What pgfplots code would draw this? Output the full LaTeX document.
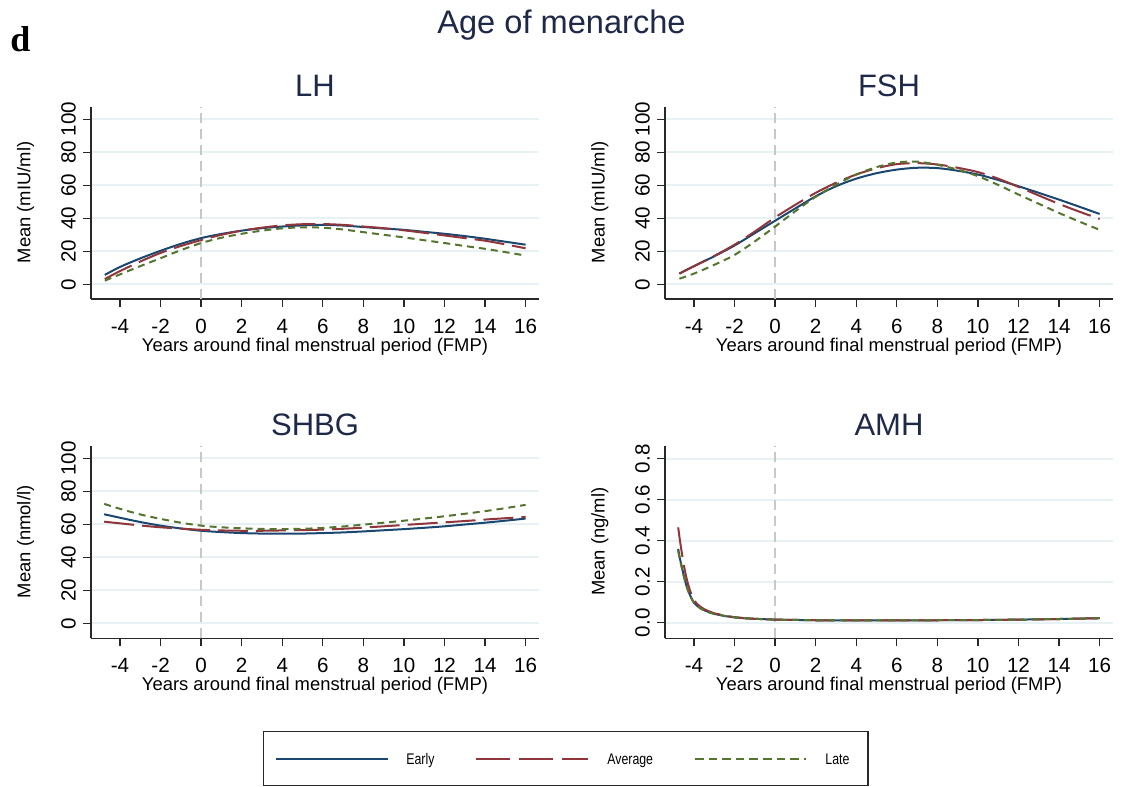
\documentclass[border=0pt]{standalone}
\usepackage{fontspec}
\setmainfont{Liberation Sans}
\newfontfamily\serifb{Liberation Serif}
\usepackage{graphicx}
\usepackage{pgfplots}
\pgfplotsset{compat=1.18}
\definecolor{stnavy}{RGB}{26,71,111}
\definecolor{stmaroon}{RGB}{144,53,59}
\definecolor{stgreen}{RGB}{85,117,47}
\definecolor{gridc}{RGB}{232,241,243}
\definecolor{titc}{RGB}{30,40,72}
\definecolor{refc}{RGB}{200,200,200}
\definecolor{axc}{RGB}{40,40,40}
\pgfplotsset{
  panel/.style={
    scale only axis, width=224pt, height=96.15pt,
    xmin=-5.43, xmax=16.66,
    axis x line*=bottom, axis y line*=left,
    axis line style={-, line width=0.65pt, axc},
    xtick={-4,-2,...,16},
    tick align=outside, major tick length=4pt,
    tick style={line width=0.65pt, axc},
    ticklabel style={font=\fontsize{10.3}{12}\selectfont},
    /pgf/number format/assume math mode=true,
    yticklabel style={rotate=90, anchor=south},
    xticklabel style={yshift=-2.5pt},
    ymajorgrids, grid style={gridc, line width=1pt},
    anchor=south west,
  },
  early/.style={stnavy, line width=1pt, smooth},
  avg/.style={stmaroon, line width=1pt, smooth, dash pattern=on 15pt off 4pt},
  late/.style={stgreen, line width=1pt, smooth, dash pattern=on 3.5pt off 2.5pt},
  refl/.style={refc, line width=0.65pt, dash pattern=on 5pt off 3pt},
}
\begin{document}
\begin{tikzpicture}
\useasboundingbox (0,0) rectangle (565.5pt,393.5pt);
% Labels
\node[font=\serifb\bfseries\fontsize{18}{20}\selectfont, anchor=base west, inner sep=0] at (5pt,367.65pt) {d};
\node[font=\fontsize{16.3}{18}\selectfont, text=titc, anchor=base, inner sep=0] at (280.75pt,376.85pt) {Age of menarche};
% LH
\begin{axis}[panel, at={(45.5pt,244pt)}, ymin=-8.9, ymax=107.6, ytick={0,20,...,100}]
\addplot[refl] coordinates {(0,-8.9) (0,107.6)};
\addplot[early] coordinates {(-4.75,5.7) (-4,10.5) (-3,15.7) (-2,20.3) (-1,24.5) (0,28) (1,30.5) (2,32.5) (3,34) (4,35) (5,35.7) (6,36) (7,35.6) (8,34.7) (9,33.8) (10,33) (11,31.8) (12,30.6) (13,29.2) (14,27.6) (15,25.8) (16,24)};
\addplot[avg] coordinates {(-4.75,3.2) (-4,8) (-3,13.8) (-2,19) (-1,23.2) (0,26.8) (1,30) (2,32.5) (3,34.3) (4,35.7) (5,36.4) (6,36.5) (7,36) (8,35) (9,34) (10,32.7) (11,31.2) (12,29.6) (13,28) (14,26.4) (15,24.2) (16,21.8)};
\addplot[late] coordinates {(-4.75,2.2) (-4,6) (-3,11) (-2,15.8) (-1,20.7) (0,25) (1,28.2) (2,30.6) (3,32.5) (4,33.9) (5,34.5) (6,34.3) (7,33.2) (8,31.6) (9,30) (10,28.4) (11,26.7) (12,25) (13,23.2) (14,21.5) (15,19.5) (16,17.4)};
\end{axis}
% FSH
\begin{axis}[panel, at={(332.5pt,244pt)}, ymin=-8.9, ymax=107.6, ytick={0,20,...,100}]
\addplot[refl] coordinates {(0,-8.9) (0,107.6)};
\addplot[early] coordinates {(-4.72,6.5) (-4,11) (-3,17) (-2,23.5) (-1,31) (0,38.5) (1,46) (2,53.3) (3,59.4) (4,64) (5,67.3) (6,69.5) (7,70.6) (8,70.4) (9,68.8) (10,66.5) (11,63.2) (12,59.4) (13,55.4) (14,51.3) (15,47) (16,42.6)};
\addplot[avg] coordinates {(-4.72,6.5) (-4,11) (-3,17.2) (-2,24) (-1,32) (0,40.5) (1,48.2) (2,55.4) (3,61.5) (4,66.5) (5,70.3) (6,72.8) (7,73.4) (8,72.6) (9,70.6) (10,68) (11,64) (12,59) (13,53.8) (14,48.7) (15,44) (16,39.6)};
\addplot[late] coordinates {(-4.72,3.4) (-4,6.5) (-3,11.8) (-2,17.8) (-1,26) (0,35) (1,44.3) (2,53) (3,60.3) (4,66.5) (5,71) (6,73.8) (7,74.3) (8,72.4) (9,69.5) (10,65.5) (11,60.2) (12,54.4) (13,48.8) (14,43.2) (15,38) (16,33)};
\end{axis}
% SHBG
\begin{axis}[panel, at={(45.5pt,74.35pt)}, ymin=-9.1, ymax=107.5, ytick={0,20,...,100}]
\addplot[refl] coordinates {(0,-9.1) (0,107.5)};
\addplot[early] coordinates {(-4.78,66.1) (-4,64) (-3,61.4) (-2,59.2) (-1,57.5) (0,56.1) (1,55.3) (2,54.7) (3,54.4) (4,54.3) (5,54.4) (6,54.7) (7,55.1) (8,55.7) (9,56.4) (10,57.1) (11,57.9) (12,58.8) (13,59.9) (14,61) (15,62.2) (16,63.5)};
\addplot[avg] coordinates {(-4.78,61.6) (-4,60.6) (-3,59.3) (-2,58.2) (-1,57.4) (0,56.7) (1,56.3) (2,56.1) (3,56.1) (4,56.3) (5,56.5) (6,56.8) (7,57.3) (8,58) (9,58.8) (10,59.6) (11,60.4) (12,61.2) (13,62) (14,62.9) (15,63.7) (16,64.5)};
\addplot[late] coordinates {(-4.78,72.4) (-4,69.4) (-3,66) (-2,63.3) (-1,61) (0,59.2) (1,58.2) (2,57.6) (3,57.2) (4,57.1) (5,57.3) (6,57.8) (7,58.7) (8,59.8) (9,61) (10,62.2) (11,63.5) (12,64.9) (13,66.4) (14,68) (15,69.8) (16,71.8)};
\end{axis}
% AMH
\begin{axis}[panel, at={(332.5pt,74.35pt)}, ymin=-0.076, ymax=0.862, ytick={0,0.2,...,0.8},
  yticklabel style={/pgf/number format/.cd, fixed, fixed zerofill, precision=1}]
\addplot[refl] coordinates {(0,-0.076) (0,0.862)};
\addplot[stnavy, line width=1pt] coordinates {(-4.78,0.36) (-4.7,0.315) (-4.6,0.272) (-4.5,0.228) (-4.4,0.19) (-4.3,0.16) (-4.2,0.135) (-4.1,0.115) (-4,0.098) (-3.85,0.083) (-3.7,0.072) (-3.5,0.061) (-3.25,0.051) (-3,0.043) (-2.5,0.033) (-2,0.026) (-1.5,0.022) (-1,0.019) (0,0.015) (2,0.012) (4,0.011) (6,0.011) (8,0.012) (10,0.013) (12,0.015) (14,0.018) (16,0.022)};
\addplot[stmaroon, line width=1pt, dash pattern=on 15pt off 4pt] coordinates {(-4.78,0.465) (-4.7,0.405) (-4.6,0.34) (-4.5,0.28) (-4.4,0.23) (-4.3,0.19) (-4.2,0.158) (-4.1,0.132) (-4,0.11) (-3.85,0.092) (-3.7,0.079) (-3.5,0.066) (-3.25,0.055) (-3,0.046) (-2.5,0.035) (-2,0.027) (-1.5,0.022) (-1,0.019) (0,0.015) (2,0.012) (4,0.011) (6,0.011) (8,0.012) (10,0.013) (12,0.015) (14,0.018) (16,0.022)};
\addplot[stgreen, line width=1pt, dash pattern=on 3.5pt off 2.5pt] coordinates {(-4.78,0.35) (-4.7,0.31) (-4.6,0.268) (-4.5,0.225) (-4.4,0.188) (-4.3,0.158) (-4.2,0.133) (-4.1,0.113) (-4,0.096) (-3.85,0.082) (-3.7,0.071) (-3.5,0.06) (-3.25,0.05) (-3,0.043) (-2.5,0.033) (-2,0.026) (-1.5,0.022) (-1,0.019) (0,0.015) (2,0.012) (4,0.011) (6,0.011) (8,0.012) (10,0.013) (12,0.015) (14,0.018) (16,0.022)};
\end{axis}
% panel titles
\foreach \x/\y/\t in {157.5/345.15/LH, 444.5/345.15/FSH, 157.5/175.5/SHBG, 444.5/175.5/AMH}
  \node[font=\fontsize{15.5}{18}\selectfont, text=titc, anchor=base, inner sep=0] at (\x pt,\y pt) {\t};
% x labels
\foreach \x/\y in {157.5/217.65, 444.5/217.65, 157.5/48, 444.5/48}
  \node[font=\fontsize{9.2}{11}\selectfont, anchor=base, inner sep=0] at (\x pt,\y pt) {Years around final menstrual period (FMP)};
% y labels
\node[font=\fontsize{9.2}{11}\selectfont, rotate=90, anchor=base, inner sep=0] at (15.25pt,292.25pt) {Mean (mIU/ml)};
\node[font=\fontsize{9.2}{11}\selectfont, rotate=90, anchor=base, inner sep=0] at (302.25pt,292.25pt) {Mean (mIU/ml)};
\node[font=\fontsize{9.2}{11}\selectfont, rotate=90, anchor=base, inner sep=0] at (15.25pt,122.6pt) {Mean (nmol/l)};
\node[font=\fontsize{9.2}{11}\selectfont, rotate=90, anchor=base, inner sep=0] at (302.25pt,122.6pt) {Mean (ng/ml)};
% legend
\draw[axc, line width=0.65pt] (131.65pt,0.65pt) rectangle (434pt,27.65pt);
\draw[stnavy, line width=1pt] (138pt,13.85pt) -- (193.85pt,13.85pt);
\draw[stmaroon, line width=1pt, dash pattern=on 17pt off 4.5pt] (238pt,13.85pt) -- (294pt,13.85pt);
\draw[stgreen, line width=1pt, dash pattern=on 4.3pt off 2.5pt] (347.5pt,13.85pt) -- (403pt,13.85pt);
\node[anchor=base west, inner sep=0] at (203pt,11.35pt) {\scalebox{0.8}[1]{\fontsize{7.7}{9}\selectfont Early}};
\node[anchor=base west, inner sep=0] at (303.5pt,11.35pt) {\scalebox{0.8}[1]{\fontsize{7.7}{9}\selectfont Average}};
\node[anchor=base west, inner sep=0] at (412.5pt,11.35pt) {\scalebox{0.8}[1]{\fontsize{7.7}{9}\selectfont Late}};
\end{tikzpicture}
\end{document}
